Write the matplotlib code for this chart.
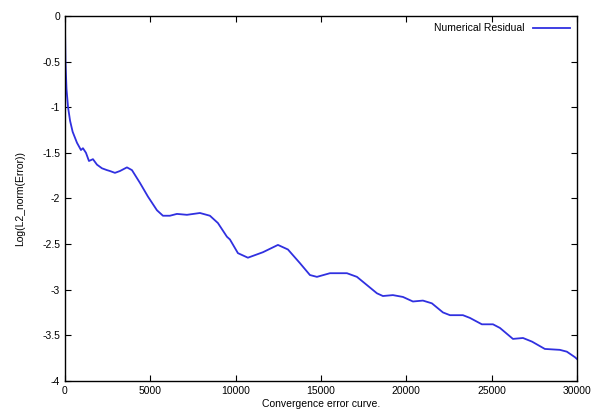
import matplotlib
matplotlib.use("Agg")
import matplotlib.pyplot as plt
from matplotlib.ticker import FuncFormatter

plt.rcParams['font.family'] = ['Liberation Sans', 'DejaVu Sans']
plt.rcParams['axes.unicode_minus'] = False

# residual curve
iters = [0, 30, 90, 180, 300, 450, 703, 937, 1054, 1230, 1406, 1640, 1875, 2168,
         2460, 2636, 2929, 3222, 3632, 3925, 4394, 4862, 5390, 5741, 6150,
         6561, 7147, 7910, 8494, 8963, 9490, 9666, 10135, 10720, 11600, 12480,
         13066, 13770, 14355, 14765, 15527, 16523, 17109, 17695, 18280, 18631,
         19217, 19803, 20390, 20975, 21500, 22150, 22560, 23320, 23730, 24430,
         25080, 25490, 26250, 26840, 27370, 28120, 29000, 29410, 29880, 30000]
resid = [-0.1, -0.5, -0.8, -1.0, -1.15, -1.27, -1.39, -1.47, -1.45, -1.50, -1.59,
         -1.57, -1.63, -1.67, -1.69, -1.70, -1.72, -1.70, -1.66, -1.69, -1.83,
         -1.98, -2.13, -2.19, -2.19, -2.17, -2.18, -2.16, -2.19, -2.27, -2.42,
         -2.45, -2.60, -2.65, -2.59, -2.51, -2.56, -2.71, -2.84, -2.86, -2.82,
         -2.82, -2.86, -2.95, -3.04, -3.07, -3.06, -3.08, -3.13, -3.12, -3.15,
         -3.25, -3.28, -3.28, -3.31, -3.38, -3.38, -3.42, -3.54, -3.53, -3.57,
         -3.65, -3.66, -3.68, -3.74, -3.76]

fig = plt.figure(figsize=(5.96, 4.19), dpi=100)
ax = fig.add_axes([0.109, 0.091, 0.859, 0.871])

ax.plot(iters, resid, color='#3030e0', linewidth=1.3, label='Numerical Residual')

ax.set_xlim(0, 30000)
ax.set_ylim(-4, 0)
ax.set_xticks(range(0, 30001, 5000))
ax.set_yticks([0, -0.5, -1, -1.5, -2, -2.5, -3, -3.5, -4])
ax.yaxis.set_major_formatter(FuncFormatter(lambda v, p: '%g' % v))
ax.tick_params(direction='in', top=True, right=True, labelsize=7.5, length=4)
for s in ax.spines.values():
    s.set_linewidth(1.0)

ax.set_xlabel('Convergence error curve.', fontsize=7.5, labelpad=2)
ax.set_ylabel('Log(L2_norm(Error))', fontsize=7.5, labelpad=12)

ax.legend(loc='upper right', frameon=False, fontsize=7.5, handlelength=3.5,
          markerfirst=False, borderaxespad=0.3)

fig.savefig('out.png', dpi=100)
